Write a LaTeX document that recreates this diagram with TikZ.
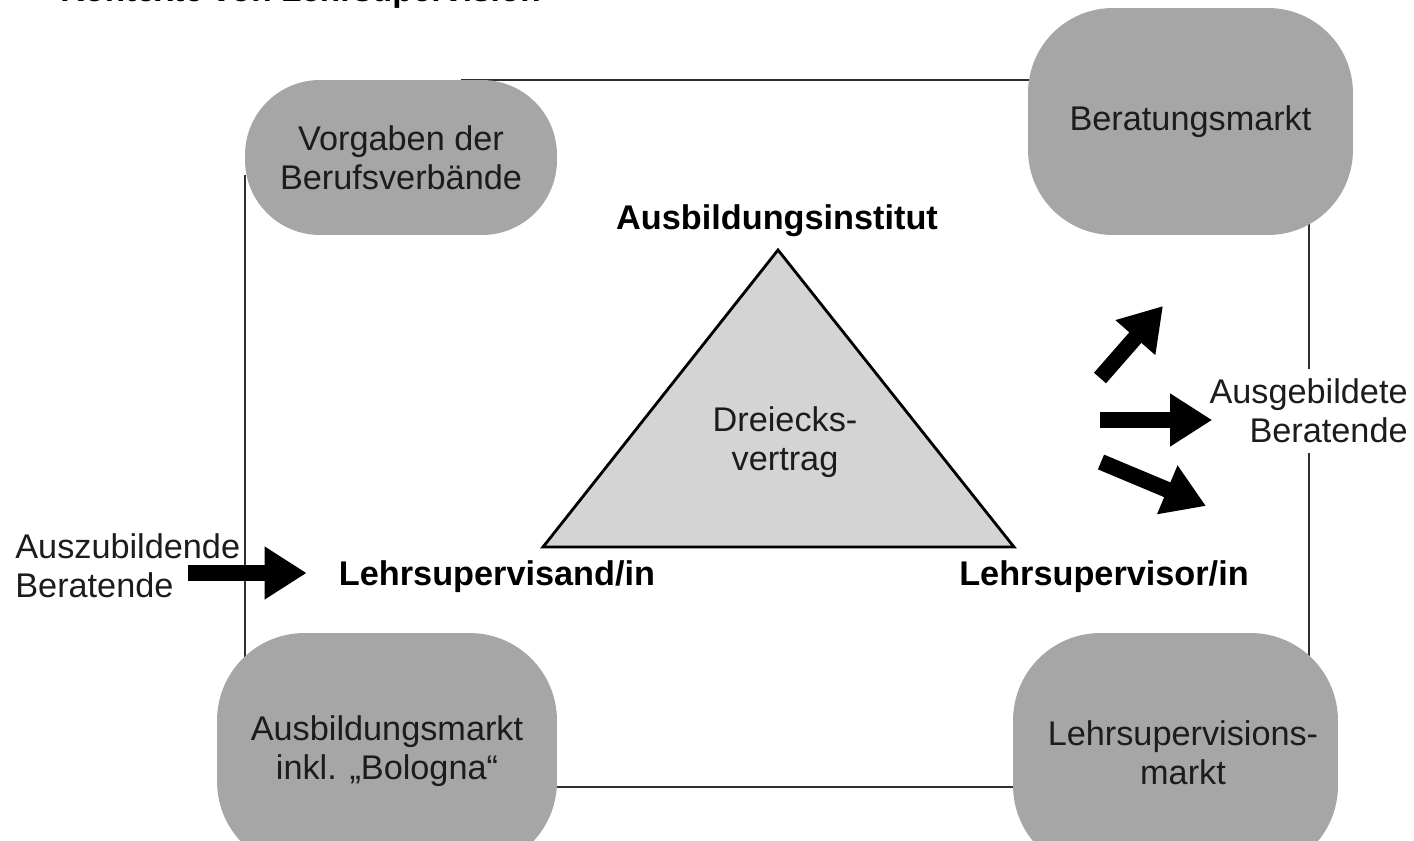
\documentclass[tikz,border=0pt]{standalone}
\usepackage{fontspec}
\setmainfont{Liberation Sans}
\usetikzlibrary{arrows.meta}
\pgfdeclarelayer{background}
\pgfsetlayers{background,main}
\definecolor{blobgray}{HTML}{A6A6A6}
\definecolor{trigray}{HTML}{D4D4D4}
\definecolor{framegray}{HTML}{2E2E2E}
\definecolor{inkdark}{HTML}{1C1C1C}

\begin{document}
\begin{tikzpicture}[x=0.02cm, y=-0.02cm,
  every node/.style={font=\fontsize{19.5}{22}\selectfont, text=inkdark},
  blob/.style={rectangle, fill=blobgray, align=center, inner sep=0pt},
  role/.style={font=\fontsize{19.5}{22}\selectfont\bfseries, text=black, inner sep=0pt},
  frameline/.style={draw=framegray, line width=1.2pt},
  blockarrow/.style={draw=black, line width=0.32cm,
    -{Triangle[length=0.84cm, width=1.0cm]}},
]
\useasboundingbox (0,0) rectangle (1414,841);

% heading, mostly above the page edge
\node[anchor=base west, inner sep=0pt, text=black,
      font=\fontsize{19}{22}\selectfont\bfseries] (title) at (60,1.5)
  {Kontexte von Lehrsupervision};

% the four context fields
\node[blob, minimum width=6.24cm, minimum height=3.1cm, rounded corners=1.5cm]
  (tl) at (401,157.5) {Vorgaben der\\Berufsverbände};
\node[blob, minimum width=6.5cm, minimum height=4.54cm, rounded corners=1.7cm]
  (tr) at (1190.5,121.5) {Beratungsmarkt};
\node[blob, minimum width=6.8cm, minimum height=4.72cm, rounded corners=1.75cm]
  (bl) at (387,751) {Ausbildungsmarkt\\inkl. „Bologna“};
\node[blob, minimum width=6.5cm, minimum height=4.8cm, rounded corners=1.75cm]
  (br) at (1175.5,753)
  {\hspace*{0.3cm}Lehrsupervisions-\\\hspace*{0.3cm}markt};

% corner of the frame hidden under the lower right field
\coordinate (fSE) at (1309,787);

% frame joining the fields
\begin{pgfonlayer}{background}
  \draw[frameline] ([yshift=-0.36cm]tl.west) -- (tl.west |- fSE) -- (fSE)
    -- (fSE |- tl.north) -- ([xshift=1.2cm]tl.north);
\end{pgfonlayer}

% triangle contract
\coordinate (apex) at (778,250);
\coordinate (baseL) at (543,547);
\coordinate (baseR) at (1014,547);
\draw[fill=trigray, draw=black, line width=1.6pt, line join=miter]
  (apex) -- (baseL) -- (baseR) -- cycle;
\node[align=center] (contract) at (785,442) {Dreiecks-\\vertrag};

% the three parties
\node[role] (inst) at (777,221) {Ausbildungsinstitut};
\node[role] (lsd) at (497,577) {Lehrsupervisand/in};
\node[role] (lsr) at (1104,577) {Lehrsupervisor/in};

% entry and exit
\node[align=left, anchor=west, inner sep=0pt] (azb) at (15,566)
  {Auszubildende\\Beratende};
\node[align=right, anchor=east, fill=white, inner xsep=0pt, inner ysep=0.2cm]
  (grad) at (1408,411) {Ausgebildete\\Beratende};

\coordinate (inTail) at (188,573);
\draw[blockarrow] (inTail) -- ([xshift=-0.64cm]lsd.west |- inTail);

\coordinate (outTail1) at (1100,378);
\coordinate (outHead1) at (1163,306);
\coordinate (outTail2) at (1100,420);
\coordinate (outTail3) at (1101,462);
\coordinate (outHead3) at (1206,506);
\draw[blockarrow] (outTail1) -- (outHead1);
\draw[blockarrow] (outTail2) -- ([xshift=0.06cm]outTail2 -| grad.west);
\draw[blockarrow] (outTail3) -- (outHead3);
\end{tikzpicture}
\end{document}
